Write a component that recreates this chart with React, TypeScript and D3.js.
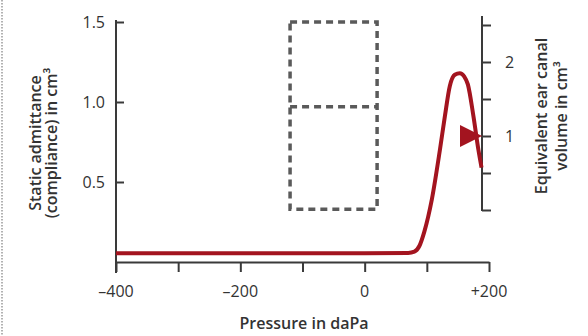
import * as d3 from 'd3';
import React, { useEffect, useRef } from 'react';

// tympanogram curve: pressure (daPa) vs static admittance (cm³)
const pressure = [-400, -200, 0, 70, 80, 88, 96, 108, 121, 129, 137, 145, 153, 160, 166, 175, 183, 188];
const admittance = [0.055, 0.055, 0.055, 0.057, 0.065, 0.1, 0.19, 0.39, 0.7, 0.91, 1.1, 1.17, 1.18, 1.16, 1.11, 0.91, 0.7, 0.59];

// arrow marks the equivalent ear canal volume
const canalVolume = 1.0;

// dashed reference box (pressure / admittance corners)
const boxPressure = [-120, 20];
const boxAdmittance = [0.33, 0.97, 1.5];

const xTicks = [-400, -300, -200, -100, 0, 100, 200];
const xLabels = [-400, -200, 0, 200];
const leftTicks = [0.5, 1.0, 1.5];
const rightTicks = [0, 0.5, 1, 1.5, 2, 2.5];
const rightLabels = [1, 2];

const W = 588;
const H = 336;
const red = '#a3141f';
const axisColor = '#3a3a3a';
const font = '"Open Sans", "DejaVu Sans", sans-serif';

const App = () => {
  const ref = useRef<SVGSVGElement>(null);

  useEffect(() => {
    const svg = d3.select(ref.current);
    svg.selectAll('*').remove();

    const x = d3.scaleLinear().domain([-400, 200]).range([116, 489]);
    const y = d3.scaleLinear().domain([0, 1.5]).range([262, 22]);
    const yR = d3.scaleLinear().domain([0, 2.5]).range([210, 25]);
    const rightX = 482;

    // left dotted page border
    svg.append('line')
      .attr('x1', 2).attr('x2', 2).attr('y1', 0).attr('y2', H)
      .attr('stroke', '#999').attr('stroke-width', 1.5)
      .attr('stroke-dasharray', '1.5,1.5');

    // dashed box
    const [bx0, bx1] = boxPressure.map(x);
    const [by0, byM, by1] = boxAdmittance.map(y);
    const box = svg.append('g')
      .attr('fill', 'none').attr('stroke', '#5a5a5a')
      .attr('stroke-width', 3.5).attr('stroke-dasharray', '7,5');
    box.append('path').attr('d', `M${bx0},${by1}H${bx1}V${by0}H${bx0}Z`);
    box.append('path').attr('d', `M${bx0},${byM}H${bx1}`);

    // x axis
    const gx = svg.append('g').attr('transform', `translate(0,262)`);
    gx.call(d3.axisBottom(x).tickValues(xTicks).tickSize(10).tickSizeOuter(0).tickFormat(() => ''));
    gx.select('.domain').attr('stroke', axisColor).attr('stroke-width', 2);
    gx.selectAll('.tick line').attr('stroke', axisColor).attr('stroke-width', 2);
    svg.append('g').selectAll('text').data(xLabels).enter().append('text')
      .attr('x', d => x(d)).attr('y', 297)
      .attr('text-anchor', 'middle')
      .attr('font-family', font).attr('font-size', 16).attr('fill', '#333')
      .text(d => (d > 0 ? '+' + d : d < 0 ? '\u2013' + Math.abs(d) : '0'));

    // left axis
    const gy = svg.append('g').attr('transform', `translate(116,0)`);
    gy.call(d3.axisLeft(y).tickValues(leftTicks).tickSizeInner(-8).tickSizeOuter(0).tickPadding(11).tickFormat(d3.format('.1f')));
    gy.select('.domain').remove();
    gy.selectAll('.tick line').attr('stroke', axisColor).attr('stroke-width', 2);
    gy.selectAll('.tick text').attr('font-family', font).attr('font-size', 16).attr('fill', '#333');
    gy.append('line').attr('x1', 0).attr('x2', 0).attr('y1', 20).attr('y2', 273)
      .attr('stroke', axisColor).attr('stroke-width', 2);

    // right axis
    const gr = svg.append('g').attr('transform', `translate(${rightX},0)`);
    gr.call(d3.axisRight(yR).tickValues(rightTicks).tickSize(9).tickSizeOuter(0).tickPadding(14)
      .tickFormat(d => (rightLabels.includes(+d) ? String(d) : '')));
    gr.select('.domain').remove();
    gr.selectAll('.tick line').attr('stroke', axisColor).attr('stroke-width', 2);
    gr.selectAll('.tick text').attr('font-family', font).attr('font-size', 16).attr('fill', '#333');
    gr.append('line').attr('x1', 0).attr('x2', 0).attr('y1', 16).attr('y2', 211)
      .attr('stroke', axisColor).attr('stroke-width', 2);

    // curve
    const pts = pressure.map((p, i) => [p, admittance[i]] as [number, number]);
    const line = d3.line<[number, number]>()
      .x(d => x(d[0])).y(d => y(d[1]))
      .curve(d3.curveMonotoneX);
    svg.append('path').datum(pts)
      .attr('d', line)
      .attr('fill', 'none').attr('stroke', red).attr('stroke-width', 4)
      .attr('stroke-linejoin', 'round');

    // arrow pointing at ear canal volume
    const ay = yR(canalVolume);
    svg.append('path')
      .attr('d', `M${rightX},${ay}L${rightX - 22},${ay - 11}L${rightX - 22},${ay + 11}Z`)
      .attr('fill', red);

    // axis titles
    svg.append('text')
      .attr('x', 304).attr('y', 329).attr('text-anchor', 'middle')
      .attr('font-family', font).attr('font-size', 16).attr('font-weight', 600).attr('fill', '#333')
      .text('Pressure in daPa');

    const lt = svg.append('text')
      .attr('transform', 'translate(41,143) rotate(-90)')
      .attr('text-anchor', 'middle')
      .attr('font-family', font).attr('font-size', 16).attr('font-weight', 600).attr('fill', '#333');
    lt.append('tspan').attr('x', 0).attr('dy', 0).text('Static admittance');
    lt.append('tspan').attr('x', 0).attr('dy', 16).text('(compliance) in cm\u00b3');

    const rt = svg.append('text')
      .attr('transform', 'translate(547,116) rotate(-90)')
      .attr('text-anchor', 'middle')
      .attr('font-family', font).attr('font-size', 16).attr('font-weight', 600).attr('fill', '#333');
    rt.append('tspan').attr('x', 0).attr('dy', 0).text('Equivalent ear canal');
    rt.append('tspan').attr('x', 0).attr('dy', 20).text('volume in cm\u00b3');
  }, []);

  return (
    <div style={{ position: 'absolute', left: 0, top: 0 }}>
      <svg ref={ref} width={W} height={H} style={{ display: 'block', background: '#fff' }} />
    </div>
  );
};

export default App;
